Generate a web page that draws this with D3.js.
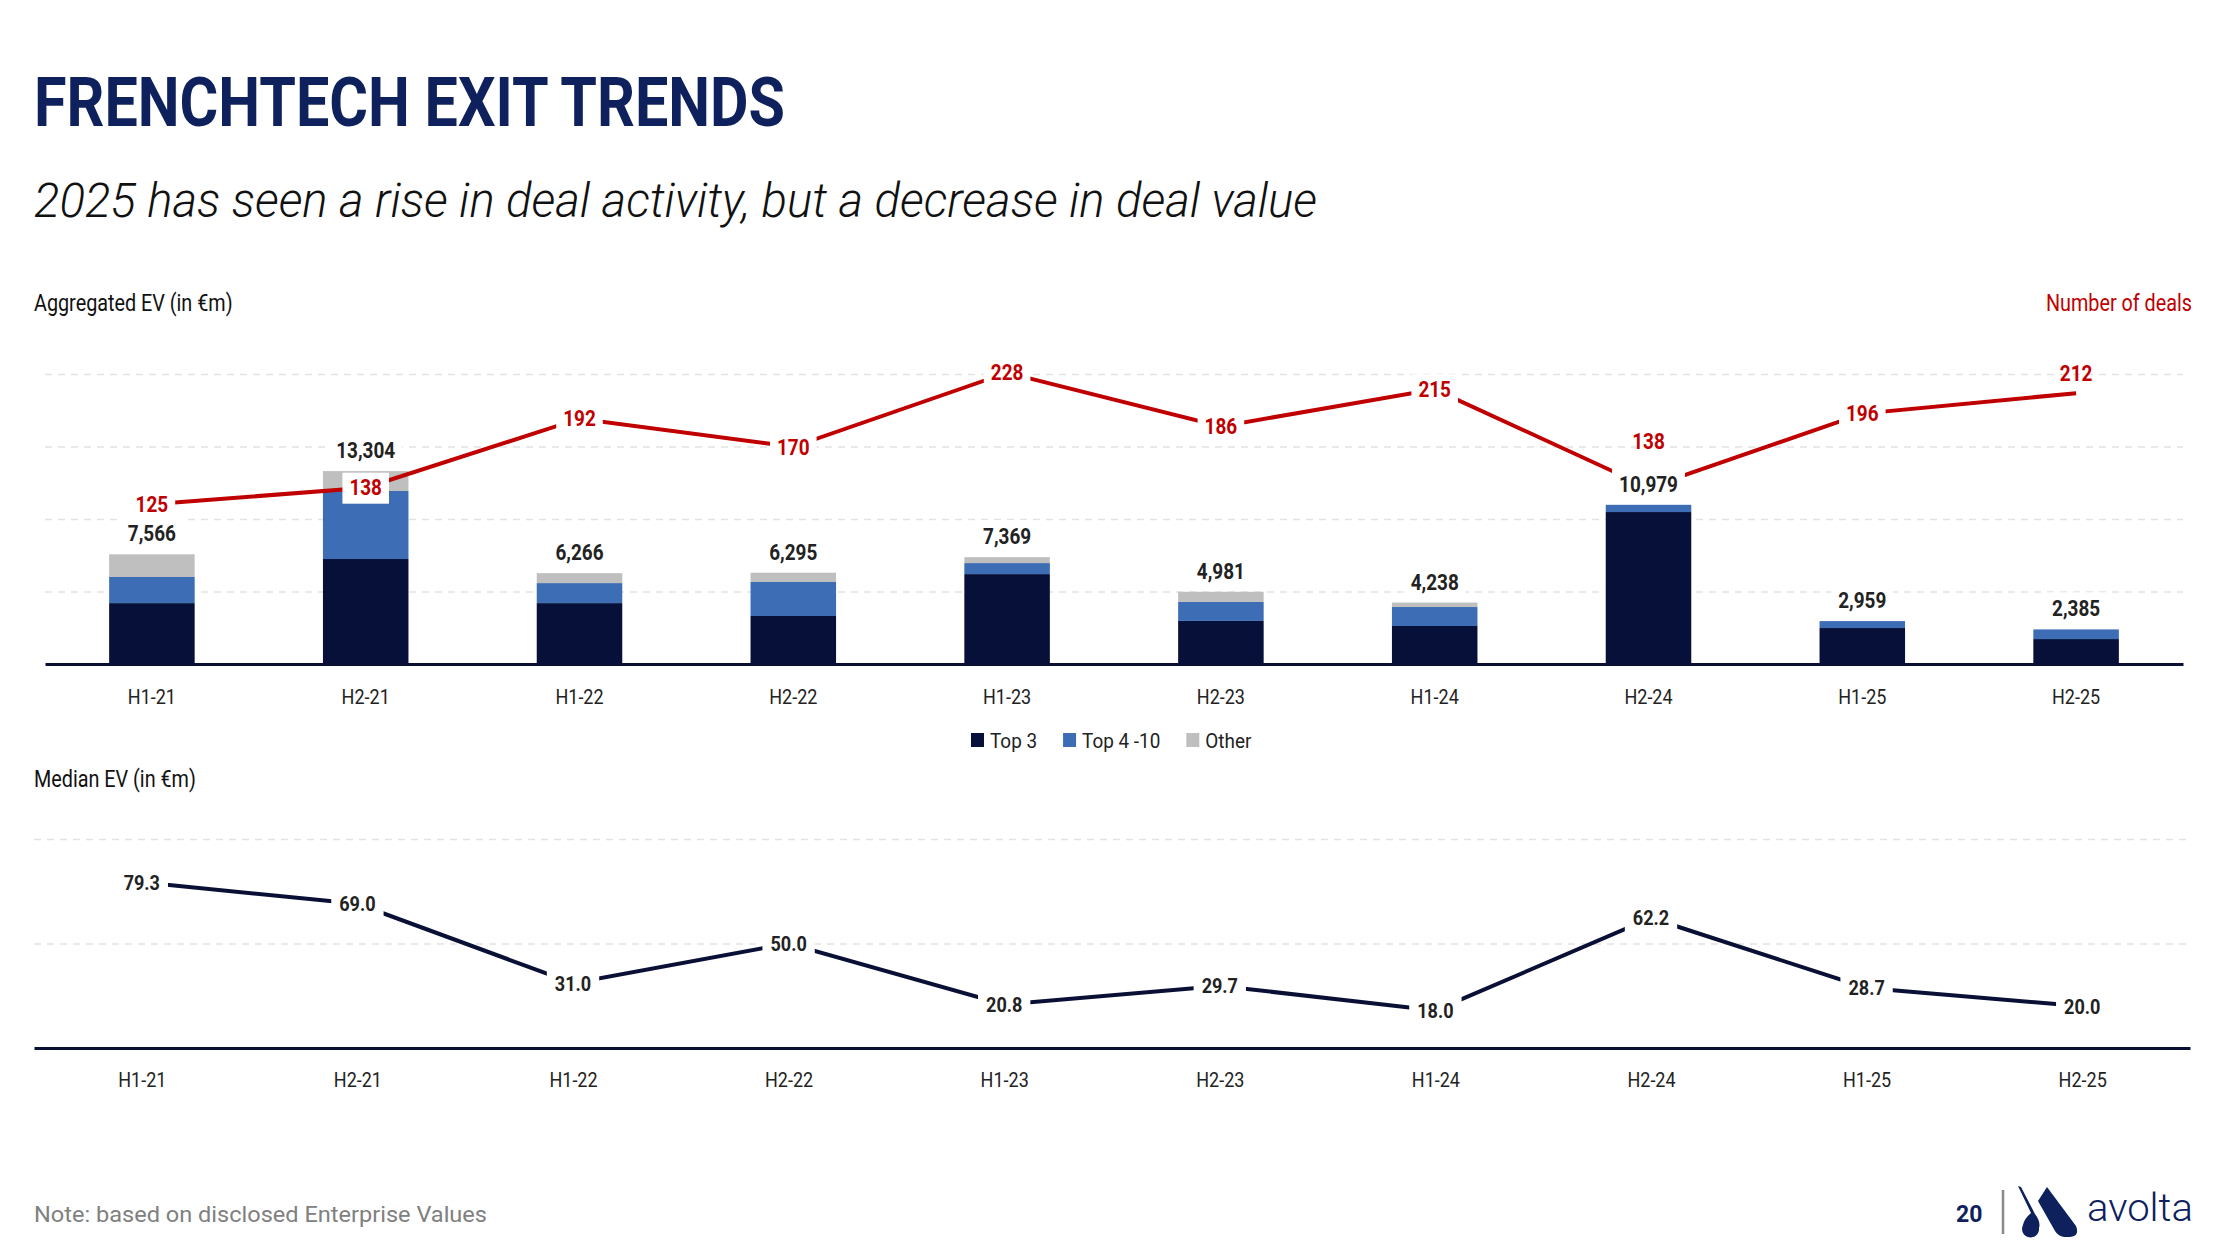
<!DOCTYPE html>
<html>
<head>
<meta charset="utf-8">
<script src="https://cdn.jsdelivr.net/npm/d3@7"></script>
<style>
  body { margin: 0; background: #fff; }
  svg { display: block; }
  text { font-family: Roboto, "Noto Sans", sans-serif; }
</style>
</head>
<body>
<script>
// chart values
const categories = ['H1-21', 'H2-21', 'H1-22', 'H2-22', 'H1-23', 'H2-23', 'H1-24', 'H2-24', 'H1-25', 'H2-25']
const top3 = [4200, 7240, 4200, 3310, 6200, 2970, 2620, 10480, 2480, 1720]
const top4to10 = [1800, 4690, 1380, 2345, 760, 1310, 1310, 499, 479, 665]
const other = [1566, 1374, 686, 640, 409, 701, 308, 0, 0, 0]
const totalEV = [7566, 13304, 6266, 6295, 7369, 4981, 4238, 10979, 2959, 2385]
const deals = [125, 138, 192, 170, 228, 186, 215, 138, 196, 212]
const medianEV = [79.3, 69.0, 31.0, 50.0, 20.8, 29.7, 18.0, 62.2, 28.7, 20.0]
const evTicks = [5000, 10000, 15000, 20000]
const medianTicks = [50, 100]
const seriesNames = ['Top 3', 'Top 4 -10', 'Other']

const colors = {
    top3: '#061038',
    top4to10: '#3d6db5',
    other: '#bfbfbf',
    red: '#c00000',
    navy: '#0e215c',
    line: '#0a1035',
    text: '#222'
}

const W = 2226, H = 1250
const K = 0.86 // squeeze Roboto towards the condensed face of the original

let svg = d3.select('body').append('svg')
    .attr('width', W)
    .attr('height', H)

function squeeze(sel, k) {
    sel.each(function() {
        let L = this.getComputedTextLength()
        this.__len = L * k
        d3.select(this).attr('textLength', L * k).attr('lengthAdjust', 'spacingAndGlyphs')
    })
    return sel
}

function boxLabel(g, x, y, txt, o) {
    let gg = g.append('g')
    let r = gg.append('rect').attr('fill', '#fff')
    let t = gg.append('text')
        .attr('x', x)
        .attr('y', y)
        .attr('text-anchor', 'middle')
        .attr('dy', o.dy != null ? o.dy : '0.35em')
        .attr('font-size', o.size)
        .attr('font-weight', 700)
        .attr('fill', o.color)
        .text(txt)
    squeeze(t, K)
    let w = t.node().__len
    if(o.box) {
        r.attr('x', x - w / 2 - o.padX)
            .attr('width', w + 2 * o.padX)
            .attr('y', y + o.boxTop)
            .attr('height', o.boxH)
    } else {
        r.remove()
    }
}

// headings
svg.append('text')
    .attr('x', 34).attr('y', 126)
    .attr('font-size', 69).attr('font-weight', 700)
    .attr('fill', colors.navy)
    .attr('textLength', 751).attr('lengthAdjust', 'spacingAndGlyphs')
    .text('FRENCHTECH EXIT TRENDS')

svg.append('text')
    .attr('x', 34).attr('y', 217)
    .attr('font-size', 48).attr('font-weight', 300).attr('font-style', 'italic')
    .attr('fill', '#111')
    .attr('textLength', 1283).attr('lengthAdjust', 'spacingAndGlyphs')
    .text('2025 has seen a rise in deal activity, but a decrease in deal value')

squeeze(svg.append('text')
    .attr('x', 34).attr('y', 311)
    .attr('font-size', 23).attr('fill', '#111')
    .text('Aggregated EV (in €m)'), K)

let nd = svg.append('text')
    .attr('x', 2192).attr('y', 311)
    .attr('text-anchor', 'end')
    .attr('font-size', 23).attr('fill', colors.red)
    .text('Number of deals')
squeeze(nd, K)

// ---- top chart: stacked EV bars + number of deals ----
let x = d3.scaleBand()
    .domain(categories)
    .range([45, 2183])
    .paddingInner(0.6)
    .paddingOuter(0.3)

let y = d3.scaleLinear().domain([0, 20000]).range([664, 374])
let yR = d3.scaleLinear().domain([0, 227]).range([664, 374])

let evChart = svg.append('g')

evChart.append('g')
    .attr('transform', 'translate(45,0)')
    .call(d3.axisLeft(y).tickValues(evTicks).tickSize(-(2183 - 45)).tickFormat(''))
    .call(g => g.select('.domain').remove())
    .call(g => g.selectAll('line')
        .attr('stroke', '#e2e2e2')
        .attr('stroke-width', 1.5)
        .attr('stroke-dasharray', '7,6'))

let rows = categories.map((c, i) => ({cat: c, top3: top3[i], top4to10: top4to10[i], other: other[i]}))
let stacked = d3.stack().keys(['top3', 'top4to10', 'other'])(rows)

evChart.append('g').selectAll('g')
    .data(stacked)
    .join('g')
    .attr('fill', d => colors[d.key])
    .selectAll('rect')
    .data(d => d)
    .join('rect')
    .attr('x', d => x(d.data.cat))
    .attr('width', x.bandwidth())
    .attr('y', d => y(d[1]))
    .attr('height', d => y(d[0]) - y(d[1]))

let xAxis = evChart.append('g')
    .attr('transform', 'translate(0,664)')
    .call(d3.axisBottom(x).tickSize(0).tickPadding(26))
xAxis.select('.domain').attr('stroke', colors.line).attr('stroke-width', 3)
xAxis.selectAll('text')
    .attr('font-size', 20).attr('fill', colors.text)
    .attr('font-family', 'Roboto')
squeeze(xAxis.selectAll('text'), 0.9)

let cx = c => x(c) + x.bandwidth() / 2

evChart.append('path')
    .datum(deals)
    .attr('fill', 'none')
    .attr('stroke', colors.red)
    .attr('stroke-width', 4)
    .attr('d', d3.line().x((d, i) => cx(categories[i])).y(d => yR(d)))

let totals = evChart.append('g')
totalEV.forEach((v, i) => {
    let by = y(top3[i] + top4to10[i] + other[i]) - 13
    boxLabel(totals, cx(categories[i]), by, d3.format(',')(v), {
        size: 22, color: colors.text, dy: 0, box: true, padX: 7, boxTop: -24, boxH: 33
    })
})

// labels 138 (H2-24) and 212 (H2-25) sit above their points in the original
let lifted = {'H2-24': 46, 'H2-25': 20}
let dealLabels = evChart.append('g')
deals.forEach((v, i) => {
    let c = categories[i]
    let lift = lifted[c] || 0
    boxLabel(dealLabels, cx(c), yR(v) - lift, v, {
        size: 22, color: colors.red, box: !lift, padX: 7, boxTop: -15, boxH: 31
    })
})

// legend
let legend = svg.append('g').attr('transform', 'translate(0,733)')
let lx = 971
let legendKeys = ['top3', 'top4to10', 'other']
seriesNames.forEach((name, i) => {
    legend.append('rect')
        .attr('x', lx).attr('y', 0)
        .attr('width', 13).attr('height', 14)
        .attr('fill', colors[legendKeys[i]])
    let t = legend.append('text')
        .attr('x', lx + 19).attr('y', 15)
        .attr('font-size', 21).attr('fill', colors.text)
        .text(name)
    squeeze(t, 0.9)
    lx += 19 + t.node().__len + 26
})

// ---- bottom chart: median EV ----
squeeze(svg.append('text')
    .attr('x', 34).attr('y', 787)
    .attr('font-size', 23).attr('fill', '#111')
    .text('Median EV (in €m)'), K)

let x2 = d3.scalePoint()
    .domain(categories)
    .range([34, 2190])
    .padding(0.5)

let y2 = d3.scaleLinear().domain([0, 100]).range([1048, 839])

let medChart = svg.append('g')

medChart.append('g')
    .attr('transform', 'translate(34,0)')
    .call(d3.axisLeft(y2).tickValues(medianTicks).tickSize(-(2190 - 34)).tickFormat(''))
    .call(g => g.select('.domain').remove())
    .call(g => g.selectAll('line')
        .attr('stroke', '#e2e2e2')
        .attr('stroke-width', 1.5)
        .attr('stroke-dasharray', '7,6'))

let xAxis2 = medChart.append('g')
    .attr('transform', 'translate(0,1048)')
    .call(d3.axisBottom(x2).tickSize(0).tickSizeOuter(0).tickPadding(25))
xAxis2.select('.domain').attr('stroke', colors.line).attr('stroke-width', 3)
xAxis2.selectAll('text')
    .attr('font-size', 20).attr('fill', colors.text)
    .attr('font-family', 'Roboto')
squeeze(xAxis2.selectAll('text'), 0.9)

medChart.append('path')
    .datum(medianEV)
    .attr('fill', 'none')
    .attr('stroke', colors.line)
    .attr('stroke-width', 4)
    .attr('d', d3.line().x((d, i) => x2(categories[i])).y(d => y2(d)))

let medLabels = medChart.append('g')
medianEV.forEach((v, i) => {
    boxLabel(medLabels, x2(categories[i]), y2(v), d3.format('.1f')(v), {
        size: 21, color: colors.text, box: true, padX: 8, boxTop: -15, boxH: 30
    })
})

// ---- footer ----
svg.append('text')
    .attr('x', 34).attr('y', 1222)
    .attr('font-family', '"Liberation Sans", Arial, sans-serif')
    .attr('font-size', 22).attr('fill', '#808080')
    .attr('textLength', 453).attr('lengthAdjust', 'spacingAndGlyphs')
    .text('Note: based on disclosed Enterprise Values')

svg.append('text')
    .attr('x', 1956).attr('y', 1222)
    .attr('font-size', 23).attr('font-weight', 700)
    .attr('fill', colors.navy)
    .text('20')

svg.append('line')
    .attr('x1', 2003).attr('x2', 2003)
    .attr('y1', 1190).attr('y2', 1234)
    .attr('stroke', '#8a8a8a').attr('stroke-width', 2.5)

let logo = svg.append('g').attr('fill', colors.navy)
logo.append('path')
    .attr('d', 'M2047,1187 L2076,1226 Q2080,1236 2070,1237 L2064,1237 Q2058,1236 2055,1231 L2038,1201 Z')
logo.append('path')
    .attr('d', 'M2018,1186 L2021,1187 L2035,1214 Q2041,1222 2039,1228 A8.5,8.5 0 1 1 2023,1225 Q2024,1219 2031,1213 Z')

svg.append('text')
    .attr('x', 2087).attr('y', 1221)
    .attr('font-size', 39).attr('font-weight', 300)
    .attr('fill', colors.navy)
    .attr('textLength', 106).attr('lengthAdjust', 'spacingAndGlyphs')
    .text('avolta')
</script>
</body>
</html>
